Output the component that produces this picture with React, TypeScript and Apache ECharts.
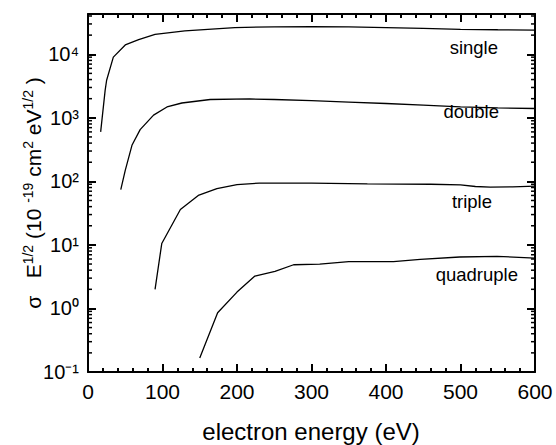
import React, { useEffect, useRef } from "react";
import * as echarts from "echarts";

// electron energy (eV) and sigma*E^1/2 values
const singleX = [17, 23, 25, 34, 50, 68, 90, 130, 197, 250, 300, 350, 400, 450, 500, 550, 600];
const singleY = [600, 2700, 3900, 9000, 14000, 17000, 20500, 23300, 26300, 27000, 27200, 27000, 26300, 25500, 24700, 24300, 24000];

const doubleX = [44, 50, 59, 70, 88, 106, 126, 164, 217, 250, 300, 350, 400, 450, 500, 550, 600];
const doubleY = [74, 149, 369, 651, 1100, 1480, 1710, 1940, 1980, 1940, 1860, 1770, 1680, 1580, 1490, 1430, 1400];

const tripleX = [90, 99, 124, 148, 173, 200, 230, 300, 375, 460, 500, 520, 540, 570, 600];
const tripleY = [2.0, 10.5, 36, 60, 77, 89, 94, 94, 91, 90, 88, 83, 81, 82, 84];

const quadX = [150, 174, 200, 224, 251, 276, 311, 350, 410, 446, 499, 549, 600];
const quadY = [0.166, 0.855, 1.81, 3.23, 3.83, 4.87, 5.0, 5.45, 5.45, 5.9, 6.45, 6.6, 6.2];

const seriesNames = ["single", "double", "triple", "quadruple"];
const xTitle = "electron energy (eV)";
const yTitle = "{t|σ   E}{s|1/2}{t| (10 }{s|-19}{t| cm}{s|2}{t| eV}{s|1/2}{t| )}";

const xMin = 0;
const xMax = 600;
const xInterval = 100;
const yMin = 0.1;
const yMax = 43000;
const logDecades = [-1, 0, 1, 2, 3, 4];
const logMinorMultipliers = [2, 3, 4, 5, 6, 7, 8, 9];
const superDigits: Record<string, string> = {
  "-": "\u207B", "0": "\u2070", "1": "\u00B9", "2": "\u00B2", "3": "\u00B3",
  "4": "\u2074", "5": "\u2075", "6": "\u2076", "7": "\u2077", "8": "\u2078", "9": "\u2079",
};

const FONT = "Liberation Sans";

function pairs(xs: number[], ys: number[]) {
  return xs.map((x, i) => [x, ys[i]]);
}

export default function App() {
  const ref = useRef<HTMLDivElement>(null);

  useEffect(() => {
    const chart = echarts.init(ref.current!, null, { renderer: "svg" });

    const minorVals: number[][] = [];
    logDecades.forEach((d) =>
      logMinorMultipliers.forEach((m) => {
        const v = m * Math.pow(10, d);
        if (v < yMax) minorVals.push([0, v]);
      })
    );

    const mkAxisLine = () => ({ show: true, onZero: false, lineStyle: { color: "#000", width: 2 } });
    const mkTick = () => ({ show: true, inside: true, length: 8, lineStyle: { color: "#000", width: 2 } });
    const mkMinor = () => ({ show: true, splitNumber: 5, length: 4, lineStyle: { color: "#000", width: 2 } });

    const yLabelFmt = (v: number) => {
      const e = Math.log10(v);
      const r = Math.round(e);
      if (Math.abs(e - r) > 1e-6) return "";
      return "10" + String(r).split("").map((c) => superDigits[c] || c).join("");
    };

    const lineSeries = [
      pairs(singleX, singleY),
      pairs(doubleX, doubleY),
      pairs(tripleX, tripleY),
      pairs(quadX, quadY),
    ].map((data) => ({
      type: "line",
      data,
      showSymbol: false,
      lineStyle: { color: "#000", width: 1.3 },
    }));

    const labelPos = [
      [498, 47],
      [499, 111],
      [492, 201],
      [518, 274],
    ];

    const option: any = {
      animation: false,
      grid: { left: 88, right: 21, top: 14, bottom: 73 },
      xAxis: [
        {
          type: "value",
          min: xMin,
          max: xMax,
          interval: xInterval,
          position: "bottom",
          axisLine: mkAxisLine(),
          axisTick: mkTick(),
          minorTick: mkMinor(),
          splitLine: { show: false },
          axisLabel: { fontSize: 21, color: "#000", margin: 9, fontFamily: FONT },
        },
        {
          type: "value",
          min: xMin,
          max: xMax,
          interval: xInterval,
          position: "top",
          axisLine: mkAxisLine(),
          axisTick: mkTick(),
          minorTick: mkMinor(),
          splitLine: { show: false },
          axisLabel: { show: false },
        },
      ],
      yAxis: [
        {
          type: "log",
          logBase: 10,
          min: yMin,
          max: yMax,
          position: "left",
          axisLine: mkAxisLine(),
          axisTick: mkTick(),
          splitLine: { show: false },
          axisLabel: { formatter: yLabelFmt, margin: 9, color: "#000", fontSize: 20, fontFamily: FONT },
        },
        {
          type: "log",
          logBase: 10,
          min: yMin,
          max: yMax,
          position: "right",
          axisLine: mkAxisLine(),
          axisTick: mkTick(),
          splitLine: { show: false },
          axisLabel: { show: false },
        },
      ],
      series: [
        ...lineSeries,
        {
          type: "custom",
          data: minorVals,
          clip: false,
          z: 4,
          renderItem: (params: any, api: any) => {
            const y = api.coord([0, api.value(1)])[1];
            const cs = params.coordSys;
            return {
              type: "group",
              children: [
                {
                  type: "line",
                  shape: { x1: cs.x, y1: y, x2: cs.x + 4, y2: y },
                  style: { stroke: "#000", lineWidth: 1.5 },
                },
                {
                  type: "line",
                  shape: { x1: cs.x + cs.width, y1: y, x2: cs.x + cs.width - 4, y2: y },
                  style: { stroke: "#000", lineWidth: 1.5 },
                },
              ],
            };
          },
        },
      ],
      graphic: [
        ...seriesNames.map((n, i) => ({
          type: "text",
          x: labelPos[i][0],
          y: labelPos[i][1],
          style: {
            text: n,
            align: "right",
            verticalAlign: "middle",
            fontSize: 18.5,
            fontFamily: FONT,
            fill: "#000",
          },
        })),
        {
          type: "text",
          x: 311,
          y: 431,
          style: {
            text: xTitle,
            align: "center",
            verticalAlign: "middle",
            fontSize: 24,
            fontFamily: FONT,
            fill: "#000",
          },
        },
        {
          type: "text",
          x: 32,
          y: 193,
          rotation: Math.PI / 2,
          style: {
            text: yTitle,
            align: "center",
            verticalAlign: "middle",
            fill: "#000",
            rich: {
              t: { fontSize: 21, fontFamily: FONT, fill: "#000", lineHeight: 23, verticalAlign: "bottom" },
              s: { fontSize: 14, fontFamily: FONT, fill: "#000", lineHeight: 14, verticalAlign: "top" },
            },
          },
        },
      ],
    };

    chart.setOption(option);
    return () => chart.dispose();
  }, []);

  return (
    <div
      ref={ref}
      style={{ position: "fixed", left: 0, top: 0, width: 556, height: 445, background: "#fff" }}
    />
  );
}
